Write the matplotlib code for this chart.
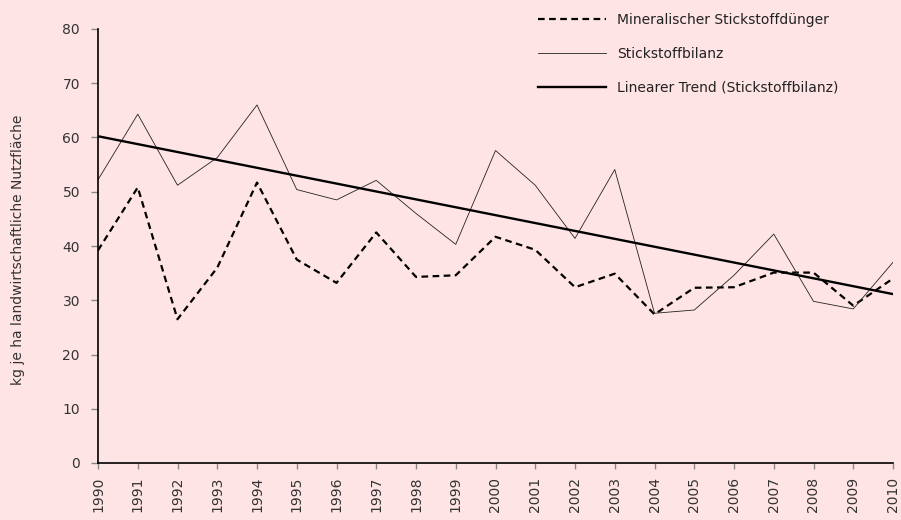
import numpy as np
import matplotlib
matplotlib.use("Agg")
import matplotlib.pyplot as plt

years = list(range(1990, 2011))
mineral = [39.2, 50.8, 26.5, 36.0, 51.7, 37.5, 33.2, 42.5, 34.3, 34.6, 41.7,
           39.3, 32.4, 34.9, 27.4, 32.3, 32.4, 35.1, 35.1, 29.0, 34.0]
bilanz = [52.2, 64.3, 51.2, 56.3, 66.0, 50.4, 48.5, 52.1, 46.0, 40.3, 57.6,
          51.2, 41.4, 54.1, 27.6, 28.2, 34.6, 42.2, 29.8, 28.4, 37.0]
labels = ["Mineralischer Stickstoffdünger", "Stickstoffbilanz",
          "Linearer Trend (Stickstoffbilanz)"]
ylabel = "kg je ha landwirtschaftliche Nutzfläche"

bg = "#FFE4E5"
plt.rcParams['font.family'] = ['DejaVu Sans']

fig = plt.figure(figsize=(9.01, 5.20), dpi=100, facecolor=bg)
ax = fig.add_axes([98/901, 57/520, 795/901, 434/520], facecolor=bg)

x = np.array(years)
coef = np.polyfit(x, np.array(bilanz), 1)
trend = np.polyval(coef, x)

l1, = ax.plot(x, mineral, color="black", lw=1.6, ls=(0, (3, 2)), label=labels[0])
l2, = ax.plot(x, bilanz, color="#222222", lw=0.6, label=labels[1])
l3, = ax.plot(x, trend, color="black", lw=1.7, label=labels[2])

ax.set_xlim(1990, 2010)
ax.set_ylim(0, 80)
ax.set_xticks(years)
ax.set_xticklabels([str(y) for y in years], rotation=90, fontsize=10, color="#333333")
ax.set_yticks(range(0, 81, 10))
ax.tick_params(axis='y', labelsize=10, labelcolor="#333333", color="#888888", length=5, width=1, pad=8)
ax.tick_params(axis='x', color="#888888", length=4, width=1, pad=6)
for s in ["top", "right"]:
    ax.spines[s].set_visible(False)
for s in ["left", "bottom"]:
    ax.spines[s].set_linewidth(1.2)
    ax.spines[s].set_color("black")

fig.text(18/901, 1 - 250/520, ylabel, rotation=90, ha="center", va="center",
         fontsize=10, color="#333333")

leg = fig.legend(handles=[l1, l2, l3], loc="upper left",
                 bbox_to_anchor=(525/901, 1.0), frameon=False,
                 fontsize=10, handlelength=4.9, handletextpad=0.85,
                 labelspacing=1.45, labelcolor="#222222")

fig.savefig("out.png", dpi=100, facecolor=bg)
